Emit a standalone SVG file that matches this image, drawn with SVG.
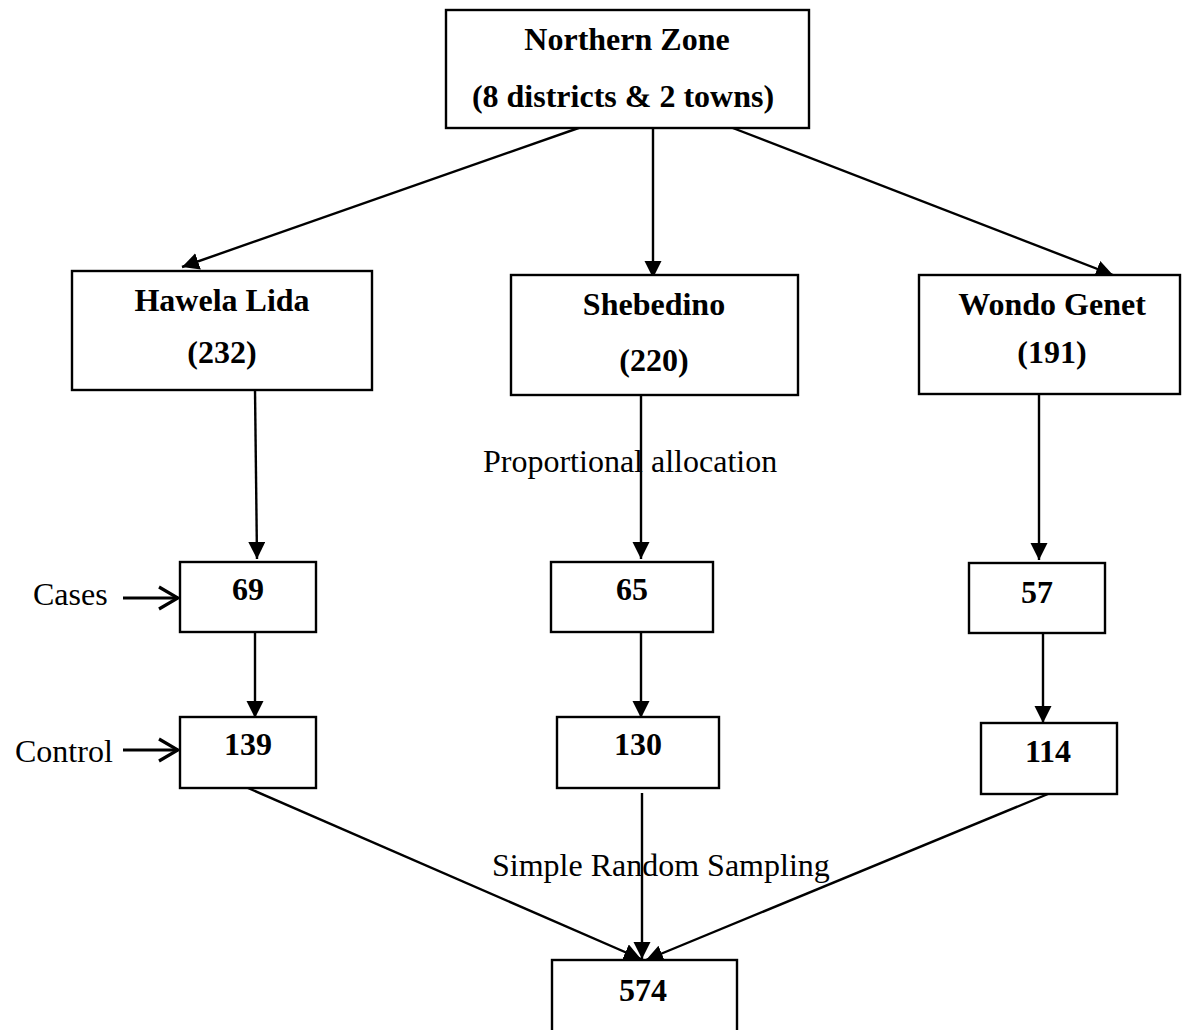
<svg xmlns="http://www.w3.org/2000/svg" width="1182" height="1030" viewBox="0 0 1182 1030">
  <style>
    .box { fill: #ffffff; stroke: #000000; stroke-width: 2.4; }
    .b { font-family: "Liberation Serif", "Times New Roman", serif; font-weight: bold; font-size: 32px; fill: #000; text-anchor: middle; }
    .n { font-family: "Liberation Serif", "Times New Roman", serif; font-size: 32px; fill: #000; }
    .c { stroke: #000; stroke-width: 2.4; fill: none; }
    .c2 { stroke: #000; stroke-width: 3.2; fill: none; }
  </style>
  <defs>
    <marker id="arr" markerUnits="userSpaceOnUse" markerWidth="18" markerHeight="18" viewBox="0 0 18 18" refX="17" refY="8.5" orient="auto">
      <path d="M0,0 L17,8.5 L0,17 Z" fill="#000"/>
    </marker>
    <marker id="chev" markerUnits="userSpaceOnUse" markerWidth="24" markerHeight="26" viewBox="0 0 24 26" refX="21" refY="13" orient="auto">
      <path d="M2,2 L21,13 L2,24" fill="none" stroke="#000" stroke-width="3.2"/>
    </marker>
  </defs>

  <g id="connectors">
    <line class="c" x1="590" y1="124" x2="182" y2="267" marker-end="url(#arr)"/>
    <line class="c" x1="653" y1="125" x2="653" y2="278" marker-end="url(#arr)"/>
    <line class="c" x1="725" y1="125" x2="1113" y2="275" marker-end="url(#arr)"/>
    <line class="c" x1="255" y1="390" x2="257" y2="559" marker-end="url(#arr)"/>
    <line class="c" x1="641" y1="395" x2="641" y2="559" marker-end="url(#arr)"/>
    <line class="c" x1="1039" y1="394" x2="1039" y2="560" marker-end="url(#arr)"/>
    <line class="c" x1="255" y1="632" x2="255" y2="718" marker-end="url(#arr)"/>
    <line class="c" x1="641" y1="632" x2="641" y2="718" marker-end="url(#arr)"/>
    <line class="c" x1="1043" y1="633" x2="1043" y2="723" marker-end="url(#arr)"/>
    <line class="c" x1="248" y1="788" x2="641" y2="959" marker-end="url(#arr)"/>
    <line class="c" x1="642" y1="793" x2="642" y2="959" marker-end="url(#arr)"/>
    <line class="c" x1="1048" y1="794" x2="646" y2="960" marker-end="url(#arr)"/>
    <line class="c2" x1="123" y1="598" x2="178" y2="598" marker-end="url(#chev)"/>
    <line class="c2" x1="123" y1="750" x2="178" y2="750" marker-end="url(#chev)"/>
  </g>

  <g id="northern-zone">
    <rect class="box" x="446" y="10" width="363" height="118"/>
    <text class="b" x="627" y="50">Northern Zone</text>
    <text class="b" x="623" y="107">(8 districts &amp; 2 towns)</text>
  </g>

  <g id="hawela-lida">
    <rect class="box" x="72" y="271" width="300" height="119"/>
    <text class="b" x="222" y="311">Hawela Lida</text>
    <text class="b" x="222" y="363">(232)</text>
  </g>

  <g id="shebedino">
    <rect class="box" x="511" y="275" width="287" height="120"/>
    <text class="b" x="654" y="315">Shebedino</text>
    <text class="b" x="654" y="371">(220)</text>
  </g>

  <g id="wondo-genet">
    <rect class="box" x="919" y="275" width="261" height="119"/>
    <text class="b" x="1052" y="315">Wondo Genet</text>
    <text class="b" x="1052" y="363">(191)</text>
  </g>

  <g id="hl-cases">
    <rect class="box" x="180" y="562" width="136" height="70"/>
    <text class="b" x="248" y="600">69</text>
  </g>
  <g id="hl-control">
    <rect class="box" x="180" y="717" width="136" height="71"/>
    <text class="b" x="248" y="755">139</text>
  </g>

  <g id="sh-cases">
    <rect class="box" x="551" y="562" width="162" height="70"/>
    <text class="b" x="632" y="600">65</text>
  </g>
  <g id="sh-control">
    <rect class="box" x="557" y="717" width="162" height="71"/>
    <text class="b" x="638" y="755">130</text>
  </g>

  <g id="wg-cases">
    <rect class="box" x="969" y="563" width="136" height="70"/>
    <text class="b" x="1037" y="603">57</text>
  </g>
  <g id="wg-control">
    <rect class="box" x="981" y="723" width="136" height="71"/>
    <text class="b" x="1048" y="762">114</text>
  </g>

  <g id="total">
    <rect class="box" x="552" y="960" width="185" height="80"/>
    <text class="b" x="643" y="1001">574</text>
  </g>

  <g id="labels">
    <text class="n" x="33" y="605">Cases</text>
    <text class="n" x="15" y="762">Control</text>
    <text class="n" x="483" y="472">Proportional allocation</text>
    <text class="n" x="492" y="876">Simple Random Sampling</text>
  </g>
</svg>
